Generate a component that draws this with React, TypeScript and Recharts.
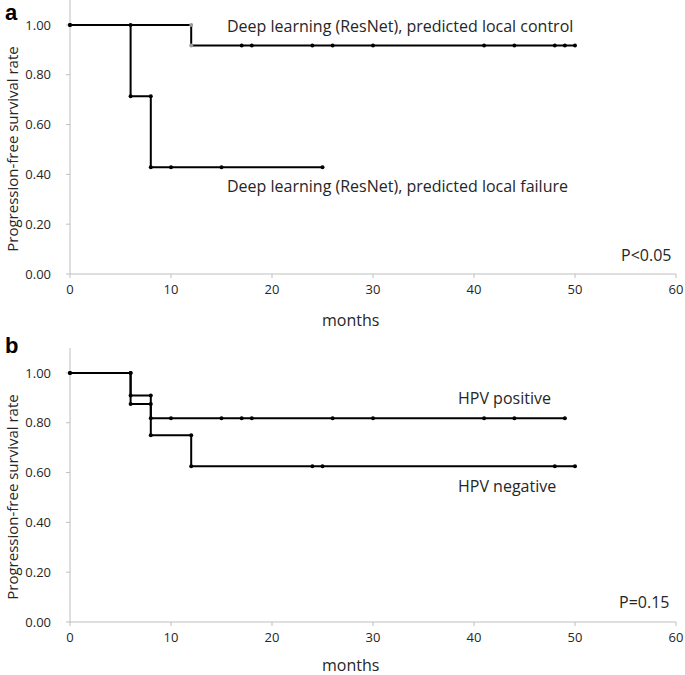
import React from "react";
import { LineChart, Line, XAxis, YAxis } from "recharts";

const AXIS_COLOR = "#bfbfbf";
const TEXT_COLOR = "#262626";
const FONT = "'Open Sans', sans-serif";

const monthTicks = [0, 10, 20, 30, 40, 50, 60];
const rateTicks = [0, 0.2, 0.4, 0.6, 0.8, 1.0];

// panel a
const controlMonths = [0, 12, 12, 17, 18, 24, 26, 30, 41, 44, 48, 49, 50];
const controlRate = [1, 1, 0.917, 0.917, 0.917, 0.917, 0.917, 0.917, 0.917, 0.917, 0.917, 0.917, 0.917];
const controlGrayMonths = [12];
const failureMonths = [0, 6, 6, 8, 8, 10, 15, 25];
const failureRate = [1, 1, 0.714, 0.714, 0.429, 0.429, 0.429, 0.429];

// panel b
const hpvPosMonths = [0, 6, 6, 8, 8, 10, 15, 17, 18, 26, 30, 41, 44, 49];
const hpvPosRate = [1, 1, 0.909, 0.909, 0.818, 0.818, 0.818, 0.818, 0.818, 0.818, 0.818, 0.818, 0.818, 0.818];
const hpvNegMonths = [0, 6, 6, 8, 8, 12, 12, 24, 25, 48, 50];
const hpvNegRate = [1, 1, 0.875, 0.875, 0.75, 0.75, 0.625, 0.625, 0.625, 0.625, 0.625];

const toPoints = (months: number[], rates: number[]) =>
    months.map((m, i) => ({ month: m, rate: rates[i] }));

const makeDot = (grayMonths: number[] = []) => (props: any) => {
    const { cx, cy, payload, index } = props;
    const fill = grayMonths.includes(payload.month) ? "#9a9a9a" : "#000";
    return <circle key={index} cx={cx} cy={cy} r={2} fill={fill} stroke="none" />;
};

type Series = { months: number[]; rates: number[]; gray?: number[] };

const Panel: React.FC<{ series: Series[]; height: number; top: number; xHeight: number }> = ({
    series,
    height,
    top,
    xHeight,
}) => (
    <LineChart width={685} height={height} margin={{ top, right: 9, left: 0, bottom: 0 }}>
        <XAxis
            dataKey="month"
            type="number"
            domain={[0, 60]}
            ticks={monthTicks}
            height={xHeight}
            tick={{ fill: TEXT_COLOR, fontSize: 13, fontFamily: FONT }}
            tickSize={4}
            tickMargin={7}
            axisLine={{ stroke: AXIS_COLOR }}
            tickLine={{ stroke: AXIS_COLOR }}
            allowDuplicatedCategory={false}
        />
        <YAxis
            type="number"
            domain={[0, 1.1]}
            ticks={rateTicks}
            width={70}
            tickFormatter={(v: number) => v.toFixed(2)}
            tick={{ fill: TEXT_COLOR, fontSize: 13, fontFamily: FONT }}
            tickSize={4}
            tickMargin={15}
            axisLine={{ stroke: AXIS_COLOR }}
            tickLine={{ stroke: AXIS_COLOR }}
        />
        {series.map((s, i) => (
            <Line
                key={i}
                data={toPoints(s.months, s.rates)}
                dataKey="rate"
                type="linear"
                stroke="#000"
                strokeWidth={2}
                dot={makeDot(s.gray)}
                activeDot={false}
                isAnimationActive={false}
            />
        ))}
    </LineChart>
);

const txt = { fontFamily: FONT, fill: TEXT_COLOR, fontSize: 16 } as const;

export default function App() {
    return (
        <div style={{ position: "absolute", left: 0, top: 0, width: 685, height: 675, background: "#fff" }}>
            <div style={{ position: "absolute", left: 0, top: 0 }}>
                <Panel
                    height={337}
                    top={0}
                    xHeight={63}
                    series={[
                        { months: controlMonths, rates: controlRate, gray: controlGrayMonths },
                        { months: failureMonths, rates: failureRate },
                    ]}
                />
            </div>
            <div style={{ position: "absolute", left: 0, top: 337 }}>
                <Panel
                    height={338}
                    top={11}
                    xHeight={53}
                    series={[
                        { months: hpvPosMonths, rates: hpvPosRate },
                        { months: hpvNegMonths, rates: hpvNegRate },
                    ]}
                />
            </div>
            <svg
                width={685}
                height={675}
                style={{ position: "absolute", left: 0, top: 0, pointerEvents: "none" }}
            >
                <text x={5} y={20} fontFamily="'Liberation Sans', Arial, sans-serif" fontWeight="bold" fontSize={22} fill="#000">
                    a
                </text>
                <text x={5} y={353} fontFamily="'Liberation Sans', Arial, sans-serif" fontWeight="bold" fontSize={22} fill="#000">
                    b
                </text>
                <text transform="translate(18,149) rotate(-90)" textAnchor="middle" {...txt} fontSize={15}>
                    Progression-free survival rate
                </text>
                <text transform="translate(18,497) rotate(-90)" textAnchor="middle" {...txt} fontSize={15}>
                    Progression-free survival rate
                </text>
                <text x={227} y={31.5} {...txt}>
                    Deep learning (ResNet), predicted local control
                </text>
                <text x={227} y={191.5} {...txt}>
                    Deep learning (ResNet), predicted local failure
                </text>
                <text x={621} y={260.5} {...txt}>
                    P&lt;0.05
                </text>
                <text x={322} y={325.5} {...txt}>
                    months
                </text>
                <text x={458} y={404} {...txt}>
                    HPV positive
                </text>
                <text x={458} y={491.5} {...txt}>
                    HPV negative
                </text>
                <text x={619} y={608} {...txt}>
                    P=0.15
                </text>
                <text x={322} y={671} {...txt}>
                    months
                </text>
            </svg>
        </div>
    );
}
